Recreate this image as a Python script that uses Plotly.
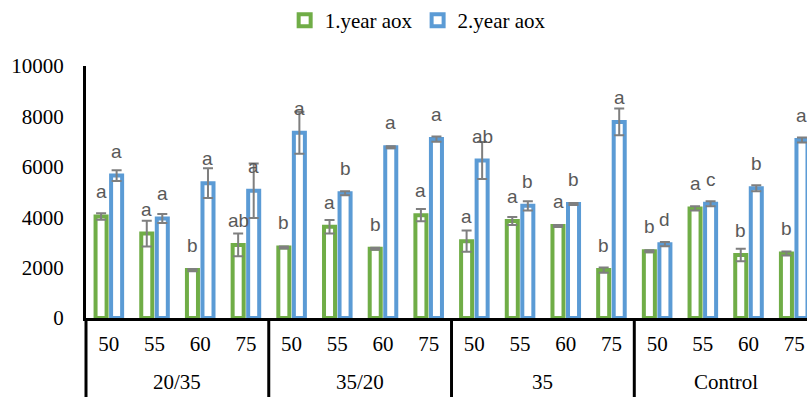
import plotly.graph_objects as go

# Treatment groups and temperatures
groups = ["20/35"] * 4 + ["35/20"] * 4 + ["35"] * 4 + ["Control"] * 4
temps = ["50", "55", "60", "75"] * 4

# Year 1 means, errors and significance letters
year1 = [4030, 3350, 1900, 2900, 2800, 3620, 2750, 4080,
         3050, 3850, 3650, 1900, 2650, 4350, 2500, 2560]
year1_err = [130, 510, 40, 450, 40, 270, 40, 245,
             420, 160, 40, 100, 40, 80, 245, 80]
year1_sig = ["a", "a", "b", "ab", "b", "a", "b", "a",
             "a", "a", "a", "b", "b", "a", "b", "b"]

# Year 2 means, errors and significance letters
year2 = [5650, 3950, 5350, 5050, 7350, 4950, 6780, 7100,
         6250, 4450, 4520, 7780, 2930, 4530, 5150, 7060]
year2_err = [210, 180, 590, 1080, 830, 80, 40, 106,
             730, 186, 40, 530, 86, 100, 120, 100]
year2_sig = ["a", "a", "a", "a", "a", "b", "a", "a",
             "ab", "b", "b", "a", "d", "c", "b", "a"]

y_ticks = [0, 2000, 4000, 6000, 8000, 10000]

GREEN = "#70AD47"
BLUE = "#5B9BD5"
ERR = "#7F7F7F"
SERIF = "Liberation Serif, Times New Roman, serif"

idx = list(range(len(temps)))

fig = go.Figure()
for name, vals, errs, color in [
    ("1.year aox", year1, year1_err, GREEN),
    ("2.year aox", year2, year2_err, BLUE),
]:
    fig.add_trace(go.Bar(
        name=name,
        x=idx,
        y=vals,
        marker=dict(color="white", line=dict(color=color, width=4)),
        error_y=dict(type="data", array=errs, color=ERR, thickness=2, width=5),
    ))

annotations = []
# Significance letters above each bar
for vals, sig, dx in [(year1, year1_sig, -7.75), (year2, year2_sig, 7.75)]:
    for i, (v, s) in enumerate(zip(vals, sig)):
        annotations.append(dict(
            x=i, y=v, xref="x", yref="y", text=s, showarrow=False,
            xshift=dx, yshift=12, yanchor="bottom",
            font=dict(family="Liberation Sans", size=19, color="#595959"),
        ))

# Group labels under the temperature row, and group dividers
shapes = []
group_names = list(dict.fromkeys(groups))
for g in group_names:
    members = [i for i, gg in enumerate(groups) if gg == g]
    start, end = members[0] - 0.5, members[-1] + 0.5
    annotations.append(dict(
        x=(start + end) / 2, y=0, xref="x", yref="paper", text=g,
        showarrow=False, yanchor="middle", yshift=-64,
        font=dict(family=SERIF, size=21, color="black"),
    ))
    if start < 0:
        shapes.append(dict(type="line", xref="paper", yref="paper",
                           x0=0, x1=0, y0=0, y1=-0.32,
                           line=dict(color="black", width=3)))
    else:
        shapes.append(dict(type="line", xref="x", yref="paper",
                           x0=start, x1=start, y0=0, y1=-0.32,
                           line=dict(color="black", width=3)))

fig.update_layout(
    width=807, height=397,
    margin=dict(l=86, r=0, t=66, b=79),
    paper_bgcolor="white", plot_bgcolor="white",
    font=dict(family=SERIF),
    barmode="group", bargap=0.32, bargroupgap=0.29,
    showlegend=True,
    legend=dict(
        orientation="h", x=0.46, xanchor="center",
        yref="container", y=1.0, yanchor="top",
        font=dict(family=SERIF, size=21, color="black"),
        traceorder="normal",
    ),
    annotations=annotations,
    shapes=shapes,
    xaxis=dict(
        range=[-0.5, 15.28],
        tickvals=idx, ticktext=temps,
        showline=True, linecolor="black", linewidth=3,
        showgrid=False, zeroline=False, ticks="",
        ticklabelstandoff=5,
        tickfont=dict(family=SERIF, size=21, color="black"),
    ),
    yaxis=dict(
        range=[0, 10000],
        tickvals=y_ticks, ticktext=[str(t) for t in y_ticks],
        showline=True, linecolor="black", linewidth=3,
        showgrid=False, zeroline=False, ticks="",
        ticklabelstandoff=15,
        tickfont=dict(family=SERIF, size=21, color="black"),
    ),
)

fig.write_html("out.html")
